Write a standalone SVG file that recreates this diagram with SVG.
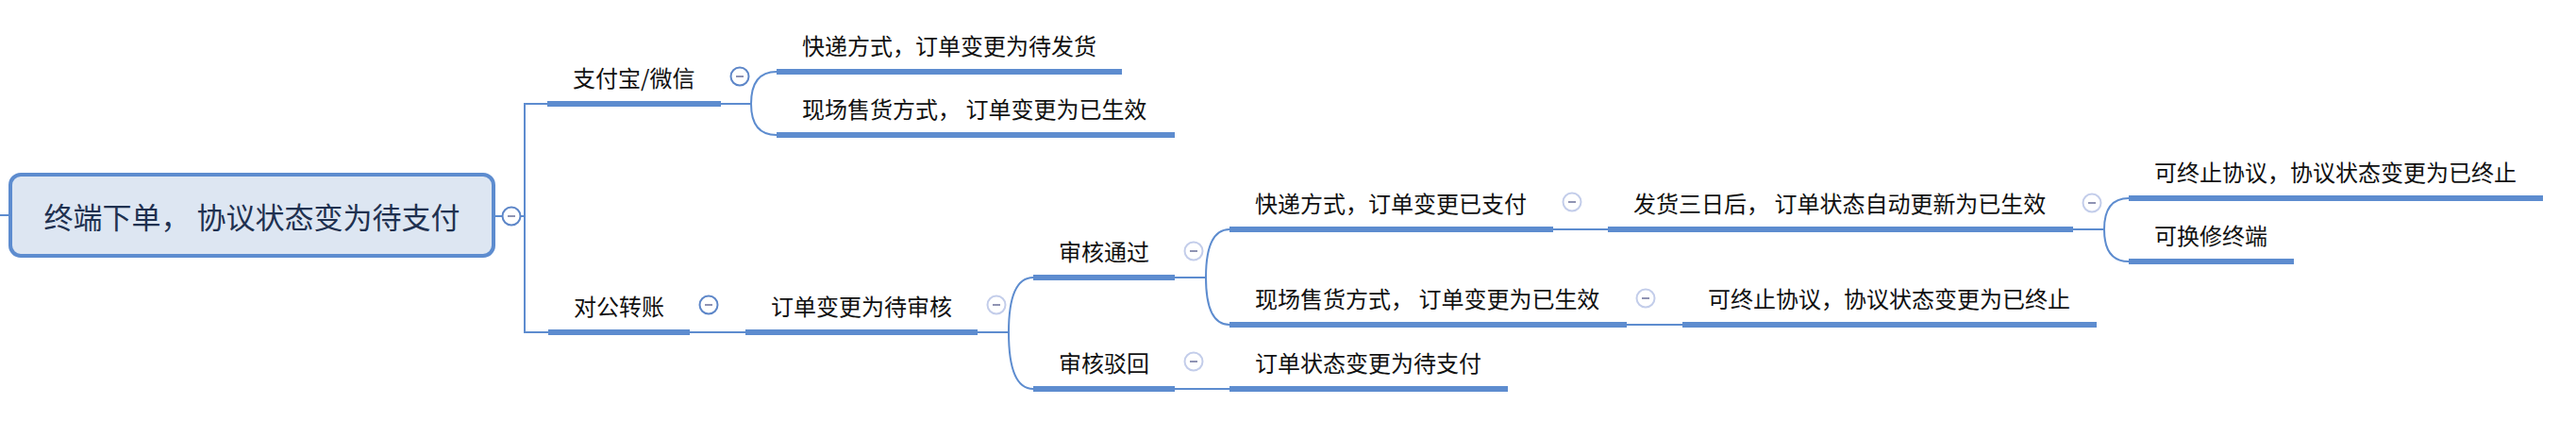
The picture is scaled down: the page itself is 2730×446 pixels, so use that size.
<svg xmlns="http://www.w3.org/2000/svg" width="2730" height="446" viewBox="0 0 2730 446">
<style>
.bar{fill:#5d8ccf}
.ln{fill:none;stroke:#5d8ccf;stroke-width:2}
.t{font-family:"Noto Sans CJK SC","Liberation Sans",sans-serif;font-size:24px;fill:#111}
.rt{font-family:"Noto Sans CJK SC","Liberation Sans",sans-serif;font-size:31px;fill:#1f3150;text-anchor:middle}
.box{fill:#dde6f2;stroke:#5d8ccf;stroke-width:4}
.cd{fill:#fff;stroke:#5d86c8;stroke-width:2}
.cl{fill:#fff;stroke:#c3cdea;stroke-width:2}
.mn{stroke:#8f93b3;stroke-width:2}
</style>
<rect width="2730" height="446" fill="#fff"/>
<g id="connectors">
<path class="ln" d="M0,228 H11"/>
<path class="ln" d="M523,229 H556"/>
<path class="ln" d="M581,110 H556 V352 H581"/>
<path class="ln" d="M764,110 H796 M796,110 Q796,76 823,76 M796,110 Q796,143 823,143"/>
<path class="ln" d="M731,352 H790"/>
<path class="ln" d="M1036,352 H1069 M1069,352 Q1069,294 1095,294 M1069,352 Q1069,412 1095,412"/>
<path class="ln" d="M1245,294 H1278 M1278,294 Q1278,243 1303,243 M1278,294 Q1278,344 1303,344"/>
<path class="ln" d="M1646,243 H1704"/>
<path class="ln" d="M2197,243 H2230 M2230,243 Q2230,210 2256,210 M2230,243 Q2230,277 2256,277"/>
<path class="ln" d="M1724,344 H1783"/>
<path class="ln" d="M1245,412 H1303"/>
</g>
<g id="root">
<rect class="box" x="11" y="185" width="512" height="86" rx="11"/>
<text class="rt" x="267" y="242">终端下单， 协议状态变为待支付</text>
<circle class="cd" cx="542" cy="229" r="9.5"/><path class="mn" d="M538,229 H546"/>
</g>
<g id="n-zfb">
<rect class="bar" x="580" y="107" width="184" height="6"/>
<text class="t" x="607" y="92">支付宝/微信</text>
<circle class="cd" cx="784" cy="81" r="9.5"/><path class="mn" d="M780,81 H788"/>
</g>
<g id="n-zfb-kd">
<rect class="bar" x="823" y="73" width="366" height="6"/>
<text class="t" x="850" y="58">快递方式，订单变更为待发货</text>
</g>
<g id="n-zfb-xc">
<rect class="bar" x="823" y="140" width="422" height="6"/>
<text class="t" x="850" y="125">现场售货方式， 订单变更为已生效</text>
</g>
<g id="n-dgzz">
<rect class="bar" x="581" y="349" width="150" height="6"/>
<text class="t" x="608" y="334">对公转账</text>
<circle class="cd" cx="751" cy="323" r="9.5"/><path class="mn" d="M747,323 H755"/>
</g>
<g id="n-dsh">
<rect class="bar" x="790" y="349" width="246" height="6"/>
<text class="t" x="817" y="334">订单变更为待审核</text>
<circle class="cl" cx="1056" cy="323" r="9.5"/><path class="mn" d="M1052,323 H1060"/>
</g>
<g id="n-shtg">
<rect class="bar" x="1095" y="291" width="150" height="6"/>
<text class="t" x="1122" y="276">审核通过</text>
<circle class="cl" cx="1265" cy="266" r="9.5"/><path class="mn" d="M1261,266 H1269"/>
</g>
<g id="n-shbh">
<rect class="bar" x="1095" y="409" width="150" height="6"/>
<text class="t" x="1122" y="394">审核驳回</text>
<circle class="cl" cx="1265" cy="383" r="9.5"/><path class="mn" d="M1261,383 H1269"/>
</g>
<g id="n-kdyzf">
<rect class="bar" x="1303" y="240" width="343" height="6"/>
<text class="t" x="1330" y="225">快递方式，订单变更已支付</text>
<circle class="cl" cx="1666" cy="214" r="9.5"/><path class="mn" d="M1662,214 H1670"/>
</g>
<g id="n-fhsrh">
<rect class="bar" x="1704" y="240" width="493" height="6"/>
<text class="t" x="1731" y="225">发货三日后， 订单状态自动更新为已生效</text>
<circle class="cl" cx="2217" cy="215" r="9.5"/><path class="mn" d="M2213,215 H2221"/>
</g>
<g id="n-kzz1">
<rect class="bar" x="2256" y="207" width="439" height="6"/>
<text class="t" x="2283" y="192">可终止协议，协议状态变更为已终止</text>
</g>
<g id="n-khx">
<rect class="bar" x="2256" y="274" width="175" height="6"/>
<text class="t" x="2283" y="259">可换修终端</text>
</g>
<g id="n-xc2">
<rect class="bar" x="1303" y="341" width="421" height="6"/>
<text class="t" x="1330" y="326">现场售货方式， 订单变更为已生效</text>
<circle class="cl" cx="1744" cy="316" r="9.5"/><path class="mn" d="M1740,316 H1748"/>
</g>
<g id="n-kzz2">
<rect class="bar" x="1783" y="341" width="439" height="6"/>
<text class="t" x="1810" y="326">可终止协议，协议状态变更为已终止</text>
</g>
<g id="n-dzf">
<rect class="bar" x="1303" y="409" width="295" height="6"/>
<text class="t" x="1330" y="394">订单状态变更为待支付</text>
</g>
</svg>
